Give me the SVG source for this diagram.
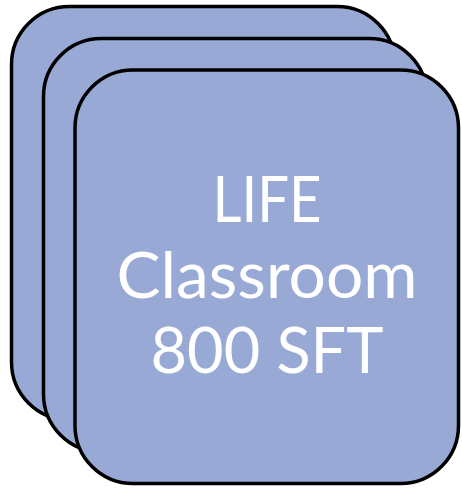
<svg xmlns="http://www.w3.org/2000/svg" width="462" height="488" viewBox="0 0 462 488">
<style>
.card{fill:#99A9D5;stroke:#000;stroke-width:3.5}
.lbl{fill:#fff;font-family:Lato,"Liberation Sans",Arial,sans-serif;font-weight:400;font-size:63px;text-anchor:middle}
</style>
<g id="card-back"><rect class="card" x="11.5" y="6.5" width="383.5" height="413.5" rx="58" ry="58"/></g>
<g id="card-middle"><rect class="card" x="43.5" y="38.5" width="383.5" height="413.5" rx="58" ry="58"/></g>
<g id="card-front"><rect class="card" x="75" y="70" width="383.5" height="413.5" rx="58" ry="58"/>
<text class="lbl" x="267" y="222" textLength="109" lengthAdjust="spacingAndGlyphs">LIFE</text>
<text class="lbl" x="267" y="298" textLength="301" lengthAdjust="spacingAndGlyphs">Classroom</text>
<text class="lbl" x="267" y="373" textLength="233" lengthAdjust="spacingAndGlyphs">800 SFT</text>
</g>
<g id="connectors"/>
</svg>
